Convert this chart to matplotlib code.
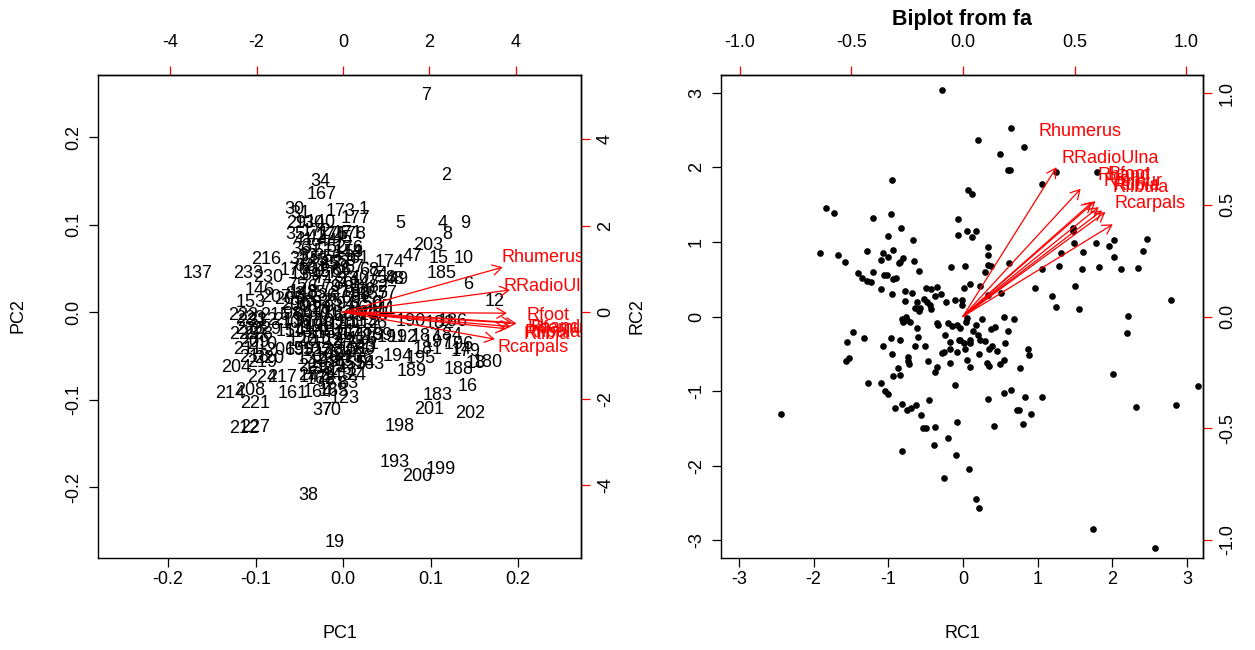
import matplotlib
matplotlib.use("Agg")
import matplotlib.pyplot as plt
import matplotlib.transforms as mtransforms

plt.rcParams['font.family'] = ['Liberation Sans', 'DejaVu Sans']
plt.rcParams['axes.unicode_minus'] = False

# ---------------- Left panel: PCA biplot (observation labels) ----------------
pc_labels = [7, 2, 34, 167, 30, 31, 29, 140, 130, 173, 1, 177, 5, 4, 9, 8, 203, 15, 10, 185,
             6, 12, 47, 174, 58, 48, 49, 40, 60, 57, 50, 175, 178, 176, 35, 216, 137, 233, 230, 146,
             207, 205, 153, 95, 206, 204, 27, 78, 63, 224, 217, 214, 208, 221, 161, 164, 165, 123, 37, 70,
             212, 227, 38, 19, 198, 193, 200, 199, 201, 183, 202, 16, 188, 180, 18, 194, 195, 189, 191, 192,
             190, 187, 181, 186, 182, 184, 196, 197, 179, 14, 43, 54, 46,
             222, 223, 215, 213, 231, 232, 226, 225, 228, 229, 209, 210, 211, 218, 219, 220,
             41, 42, 44, 45, 36, 39, 51, 52, 53, 32, 33, 55, 56, 59, 61, 62, 64, 65, 66, 67, 68,
             69, 71, 72, 73, 74, 75, 76, 77, 79, 80, 81, 82, 83, 84, 85, 86, 87, 88, 89,
             90, 91, 92, 93, 94, 96, 97, 98, 99, 100, 101, 102, 103, 104, 105,
             106, 107, 108, 109, 110, 111, 112, 113, 114, 115, 116, 117, 118, 119,
             120, 121, 122, 124, 125, 126, 127, 128, 129, 131, 132, 133, 134, 135, 136,
             138, 139, 141, 142, 143,
             3, 11, 13, 17, 20, 21, 22, 24, 25, 26, 28, 144, 145, 147, 148, 149, 150, 151, 152,
             154, 155, 156, 157, 158, 159, 160, 162, 163, 166, 168, 169, 170, 171, 172]
pc1 = [0.095, 0.118, -0.026, -0.024, -0.056, -0.049, -0.053, -0.026, -0.038, -0.003, 0.023, 0.014, 0.066, 0.114, 0.140, 0.119, 0.097, 0.109, 0.138, 0.113,
       0.143, 0.173, 0.079, 0.053, 0.050, 0.059, 0.064, 0.019, 0.026, 0.050, 0.034, -0.011, 0.010, 0.006, -0.054, -0.088, -0.166, -0.108, -0.086, -0.095,
       -0.077, -0.061, -0.106, -0.046, -0.072, -0.122, -0.040, -0.021, 0.006, -0.093, -0.070, -0.129, -0.106, -0.100, -0.058, -0.029, -0.011, 0.002, -0.024, -0.014,
       -0.113, -0.100, -0.040, -0.010, 0.065, 0.059, 0.085, 0.112, 0.098, 0.108, 0.145, 0.142, 0.132, 0.165, 0.152, 0.063, 0.089, 0.079, 0.056, 0.068,
       0.077, 0.094, 0.097, 0.125, 0.111, 0.119, 0.132, 0.108, 0.140, 0.136, 0.026, 0.025, 0.040,
       -0.114, -0.106, -0.078, -0.063, -0.104, -0.093, -0.106, -0.113, -0.097, -0.088, -0.101, -0.092, -0.109, -0.101, -0.092, -0.084,
       -0.045, -0.030, -0.018, 0.000, -0.048, -0.036, -0.022, -0.008, 0.012, -0.050, -0.040, -0.027, -0.012, 0.004, 0.018, -0.044, -0.031, -0.016, -0.002, 0.013, 0.030,
       -0.036, -0.022, -0.007, 0.007, 0.040, -0.052, -0.040, -0.028, -0.014, 0.000, 0.012, 0.040, -0.055, -0.043, -0.031, -0.018, -0.004, 0.010, 0.020,
       -0.050, -0.038, -0.025, -0.011, 0.003, 0.017, 0.045, -0.058, -0.046, -0.033, -0.020, -0.006, 0.008, 0.022, 0.035,
       -0.054, -0.041, -0.028, -0.015, -0.001, 0.012, 0.026, -0.050, -0.037, -0.024, -0.010, 0.004, 0.018, 0.031,
       -0.046, -0.033, -0.019, -0.005, 0.009, 0.022, -0.030, -0.016, -0.002, 0.012, -0.036, -0.022, -0.008, 0.006, 0.018,
       -0.028, -0.014, 0.000, -0.033, -0.006,
       -0.002, 0.050, -0.050, -0.020, -0.060, 0.030, -0.040, 0.015, -0.012, 0.000, -0.025, 0.005, -0.035, 0.025, -0.045, -0.015, 0.028, -0.030, 0.015,
       -0.060, 0.010, -0.020, 0.035, -0.008, -0.050, 0.020, -0.025, 0.030, -0.040, -0.012, 0.040, -0.055, 0.005, -0.030]
pc2 = [0.250, 0.159, 0.151, 0.137, 0.119, 0.115, 0.104, 0.105, 0.103, 0.117, 0.120, 0.109, 0.104, 0.104, 0.104, 0.091, 0.079, 0.064, 0.064, 0.047,
       0.034, 0.014, 0.066, 0.059, 0.041, 0.040, 0.040, 0.041, 0.027, 0.024, 0.011, 0.091, 0.091, 0.075, 0.091, 0.062, 0.046, 0.046, 0.042, 0.027,
       0.019, 0.017, 0.013, -0.042, -0.042, -0.061, -0.070, -0.075, -0.079, -0.072, -0.073, -0.091, -0.087, -0.102, -0.091, -0.090, -0.089, -0.096, -0.110, -0.110,
       -0.131, -0.130, -0.207, -0.261, -0.128, -0.170, -0.186, -0.177, -0.109, -0.093, -0.113, -0.083, -0.063, -0.055, -0.056, -0.048, -0.051, -0.065, -0.027, -0.027,
       -0.009, -0.026, -0.040, -0.008, -0.011, -0.024, -0.035, -0.032, -0.043, -0.041, -0.038, -0.056, -0.011,
       -0.001, -0.005, -0.002, -0.007, -0.009, -0.007, -0.018, -0.023, -0.023, -0.018, -0.032, -0.035, -0.041, -0.050, -0.055, -0.051,
       0.084, 0.087, 0.083, 0.086, 0.074, 0.077, 0.072, 0.076, 0.070, 0.063, 0.066, 0.062, 0.065, 0.060, 0.064, 0.054, 0.051, 0.055, 0.050, 0.053, 0.050,
       0.044, 0.041, 0.046, 0.040, 0.045, 0.033, 0.030, 0.035, 0.031, 0.034, 0.029, 0.031, 0.022, 0.019, 0.024, 0.020, 0.023, 0.018, 0.021,
       0.010, 0.007, 0.012, 0.008, 0.011, 0.006, 0.008, 0.000, -0.003, 0.002, -0.002, 0.001, -0.003, 0.000, -0.002,
       -0.011, -0.008, -0.012, -0.009, -0.012, -0.008, -0.011, -0.021, -0.018, -0.022, -0.019, -0.023, -0.020, -0.024,
       -0.031, -0.028, -0.033, -0.030, -0.034, -0.029, -0.043, -0.040, -0.044, -0.041, -0.052, -0.055, -0.051, -0.054, -0.050,
       -0.063, -0.060, -0.064, -0.072, -0.070,
       0.040, 0.005, 0.045, 0.090, 0.010, -0.035, -0.060, -0.070, 0.015, -0.025, 0.005, 0.070, 0.060, 0.035, 0.025, -0.048, 0.012, -0.015, 0.025,
       -0.020, -0.058, 0.048, 0.022, 0.058, -0.040, -0.040, -0.075, -0.058, 0.012, -0.080, -0.025, 0.050, 0.092, 0.095]

# Variable loadings (secondary-axis units)
var_names = ['Rhumerus', 'RRadioUlna', 'Rfoot', 'Rhand', 'Rfemur', 'Rtibia', 'Rfibula', 'Rcarpals']
pc_load1 = [4.62, 4.83, 4.74, 4.88, 5.02, 4.72, 4.85, 4.39]
pc_load2 = [1.30, 0.64, -0.03, -0.30, -0.33, -0.48, -0.42, -0.78]

# ---------------- Right panel: FA biplot (points) ----------------
rc1 = [-0.28, -0.95, -1.83, -1.73, -1.20, -0.96, -0.83, -1.01, -0.67, -0.06, -0.06, -1.91, -1.67, -1.58, -1.29, -1.07, -0.94, -1.10, -1.01, -0.80,
       -0.86, -0.84, -0.65, -0.59, -0.16, -1.40, -1.35, -1.29, -1.23, -1.21, -1.06, -1.02, -0.93, -0.89, -1.10, -0.95, -0.78, -0.68, -0.77, -0.49,
       -0.43, -0.35, -0.29, -0.38, -0.52, -0.61, -0.48, -0.64, -0.57, -0.44, -0.43, -0.59, -0.23, -0.11, -0.76, -0.81,
       0.64, 0.20, 0.82, 0.50, 0.60, 0.63, 1.25, 1.79, 1.06, 0.07, 0.12, 0.06, 0.18, 0.12, 1.48, 1.48, 1.49, 1.78, 1.95, 2.02,
       2.47, 2.41, 2.02, 1.61, 1.32, 0.33, 0.33, 0.33, 0.37, 0.30, 0.62, 0.03, 1.06, 1.29, 1.59, 1.82, 2.12, 2.34, 0.10, 0.02,
       0.23, 0.51, 0.97, 1.50, 1.19, 0.34, 2.78, 1.25, 1.55, -0.01, -0.01, 0.05, 0.26, 0.55, 0.69, 2.21,
       -0.80, -0.71, -0.75, -0.61, -0.35, -0.33, -0.20, -0.15, -0.08, -1.47, -1.55, -1.33, -0.96, -0.84, -0.60, -0.24, -0.17, -0.05, -1.07, -0.64,
       -0.51, -0.95, -0.74, -0.74, -0.72, -0.28, -0.26, -0.17, -0.08, -1.56, -1.52, -0.47, -0.17, -0.87, -0.35, -0.93, -0.84, -0.38, -1.27, -1.10,
       -1.04, -1.00, -0.10, -0.91, -0.82, -0.75, -0.69, -0.63, -0.45, -0.56, -0.54, -0.49, -0.37, -0.08, -0.20, -0.39, -0.09, -0.81, -0.25, -2.43,
       -0.04, 0.04, 2.20, 0.17, 0.14, 0.20, 0.23, 0.29, -0.04, 0.02, 0.09, 0.09, 0.03, 0.38, 0.43, 0.61, 0.56, 0.35, 0.39, 0.45,
       0.22, 0.05, 0.09, 0.32, 0.35, 0.50, 0.55, 0.87, 0.88, 0.77, 0.33, 0.55, 0.64, 0.83, 1.06, 0.72, 0.75, 0.91, 0.42, 0.81,
       0.08, 0.18, 0.21, 2.01, 2.32, 2.85, 3.15, 1.74, 2.57]
rc2 = [3.04, 1.83, 1.45, 1.39, 1.32, 1.37, 1.18, 1.08, 1.02, 1.30, 1.09, 0.85, 0.83, 0.73, 0.88, 0.85, 0.89, 0.76, 0.80, 0.78,
       0.71, 0.73, 0.75, 0.61, 0.66, 0.58, 0.52, 0.48, 0.46, 0.60, 0.56, 0.56, 0.50, 0.52, 0.37, 0.30, 0.34, 0.31, 0.21, 0.38,
       0.37, 0.39, 0.30, 0.28, 0.23, 0.19, 0.19, 0.12, 0.12, 0.15, 0.10, 0.08, 0.19, 0.22, 0.00, -0.03,
       2.52, 2.37, 2.27, 2.18, 1.96, 1.96, 1.93, 1.93, 1.78, 1.70, 1.64, 1.14, 1.14, 1.07, 1.19, 1.14, 0.99, 0.98, 0.94, 1.03,
       1.04, 0.88, 0.80, 0.86, 0.85, 0.93, 0.82, 0.69, 0.68, 0.60, 0.71, 0.68, 0.64, 0.68, 0.63, 0.66, 0.64, 0.65, 0.44, 0.38,
       0.41, 0.32, 0.38, 0.41, 0.27, 0.29, 0.22, 0.13, 0.10, 0.22, 0.15, -0.02, -0.03, -0.01, -0.03, 0.01,
       -0.08, -0.08, -0.05, -0.16, -0.09, -0.11, -0.09, -0.13, -0.11, -0.21, -0.34, -0.29, -0.29, -0.32, -0.28, -0.25, -0.34, -0.31, -0.40, -0.39,
       -0.40, -0.50, -0.54, -0.59, -0.63, -0.49, -0.48, -0.44, -0.48, -0.59, -0.56, -0.60, -0.62, -0.69, -0.67, -0.80, -0.78, -0.75, -0.89, -0.89,
       -1.00, -1.04, -0.92, -1.22, -1.17, -1.25, -1.22, -1.18, -1.12, -1.32, -1.49, -1.50, -1.48, -1.41, -1.63, -1.72, -1.85, -1.80, -2.16, -1.30,
       -0.16, -0.07, -0.22, -0.11, -0.20, -0.25, -0.31, -0.33, -0.31, -0.36, -0.31, -0.36, -0.44, -0.17, -0.14, -0.19, -0.35, -0.44, -0.39, -0.46,
       -0.50, -0.58, -0.67, -0.62, -0.66, -0.64, -0.58, -0.43, -0.52, -0.69, -1.11, -1.03, -0.98, -1.08, -1.08, -1.25, -1.25, -1.30, -1.47, -1.44,
       -2.04, -2.44, -2.57, -0.77, -1.21, -1.19, -0.93, -2.85, -3.10]

fa_load1 = [0.524, 0.659, 0.742, 0.723, 0.760, 0.779, 0.798, 0.839]
fa_load2 = [0.836, 0.715, 0.646, 0.640, 0.613, 0.594, 0.585, 0.516]

FS = 13
W, H = 1255, 650
fig = plt.figure(figsize=(W / 100, H / 100), dpi=100)


def text_c(ax, x, y, s, **kw):
    tr = mtransforms.offset_copy(ax.transData, fig=fig, x=0, y=-0.36 * FS, units='points')
    ax.text(x, y, s, transform=tr, ha='center', va='baseline', fontsize=FS, clip_on=True, **kw)


def style_axes(ax, sec_ratio, sec_ticks, sec_fmt, pri_xt, pri_yt, pri_fmt):
    ax.set_xticks(pri_xt)
    ax.set_yticks(pri_yt)
    ax.set_xticklabels([pri_fmt(v) for v in pri_xt])
    ax.set_yticklabels([pri_fmt(v) for v in pri_yt], rotation=90, va='center')
    ax.tick_params(direction='out', length=6.5, width=0.9, labelsize=FS, pad=3)
    ax.tick_params(axis='y', pad=5)
    for sp in ax.spines.values():
        sp.set_linewidth(1.0)
    sx = ax.secondary_xaxis('top', functions=(lambda v: v / sec_ratio, lambda v: v * sec_ratio))
    sy = ax.secondary_yaxis('right', functions=(lambda v: v / sec_ratio, lambda v: v * sec_ratio))
    sx.set_xticks(sec_ticks)
    sx.set_xticklabels([sec_fmt(v) for v in sec_ticks])
    sy.set_yticks(sec_ticks)
    sy.set_yticklabels([sec_fmt(v) for v in sec_ticks], rotation=90, va='center')
    for s in (sx, sy):
        s.tick_params(direction='out', length=6.5, width=0.9, color='red', labelcolor='black',
                      labelsize=FS, pad=3)
        for sp in s.spines.values():
            sp.set_color('black')
            sp.set_linewidth(1.0)
    sx.tick_params(pad=10.5)
    sy.tick_params(pad=5)
    return sx, sy


def arrows(ax, l1, l2, ratio):
    for nm, a, b in zip(var_names, l1, l2):
        ax.annotate('', xy=(0.8 * a * ratio, 0.8 * b * ratio), xytext=(0, 0),
                    arrowprops=dict(arrowstyle='->,head_length=0.4,head_width=0.23', color='red',
                                    lw=0.9, shrinkA=0, shrinkB=0, mutation_scale=16),
                    annotation_clip=False)
        text_c(ax, a * ratio, b * ratio, nm, color='red')


# ---- left ----
axL = fig.add_axes([98 / W, 1 - 558 / H, (581 - 98) / W, (558 - 75) / H])
axL.set_xlim(-0.280, 0.272)
axL.set_ylim(-0.281, 0.271)
rL = 0.0494
for lab, x, y in zip(pc_labels, pc1, pc2):
    text_c(axL, x, y, str(lab), color='black')
arrows(axL, pc_load1, pc_load2, rL)
style_axes(axL, rL, [-4, -2, 0, 2, 4], lambda v: f"{v:d}",
           [-0.2, -0.1, 0.0, 0.1, 0.2], [-0.2, -0.1, 0.0, 0.1, 0.2], lambda v: f"{v:.1f}")

# ---- right ----
axR = fig.add_axes([721 / W, 1 - 558 / H, (1203 - 721) / W, (558 - 75) / H])
axR.set_xlim(-3.24, 3.215)
axR.set_ylim(-3.235, 3.235)
rR = 2.99
axR.plot(rc1, rc2, 'o', color='black', ms=4.8, mew=0)
arrows(axR, fa_load1, fa_load2, rR)
style_axes(axR, rR, [-1.0, -0.5, 0.0, 0.5, 1.0], lambda v: f"{v:.1f}",
           [-3, -2, -1, 0, 1, 2, 3], [-3, -2, -1, 0, 1, 2, 3], lambda v: f"{v:d}")

# axis titles
fig.text(340 / W, 1 - 633 / H, 'PC1', ha='center', va='center', fontsize=FS)
fig.text(18 / W, 1 - 316 / H, 'PC2', ha='center', va='center', fontsize=FS, rotation=90)
fig.text(962 / W, 1 - 633 / H, 'RC1', ha='center', va='center', fontsize=FS)
fig.text(637 / W, 1 - 316 / H, 'RC2', ha='center', va='center', fontsize=FS, rotation=90)
fig.text(962 / W, 1 - 20 / H, 'Biplot from fa', ha='center', va='center',
         fontsize=15.5, fontweight='bold')

fig.savefig('out.png', dpi=100)
